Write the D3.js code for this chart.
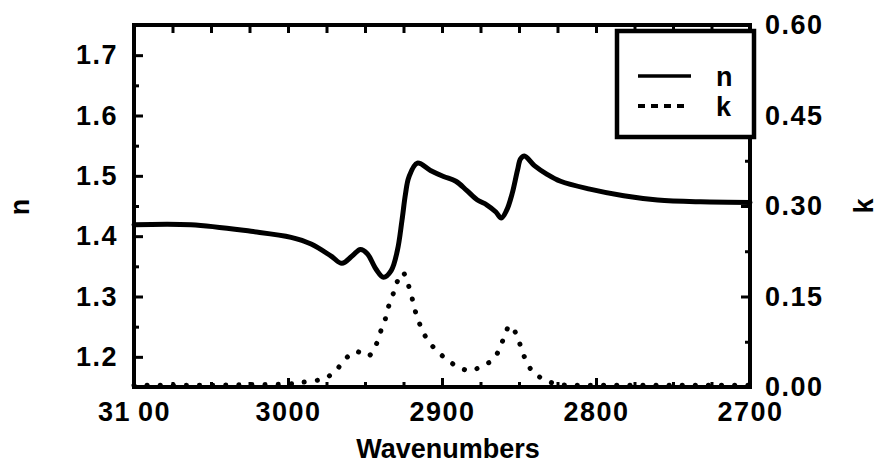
<!DOCTYPE html>
<html>
<head>
<meta charset="utf-8">
<script src="https://cdn.jsdelivr.net/npm/d3@7"></script>
<style>
  html, body { margin: 0; padding: 0; background: #fff; }
  svg text { font-family: "Liberation Sans", Arial, sans-serif; font-weight: bold; fill: #000; }
</style>
</head>
<body>
<svg id="chart" width="881" height="464"></svg>
<script>
// ---- data ----
const nWave = [3100, 3063, 3024, 2998, 2985, 2972, 2965, 2958, 2953, 2948.5, 2943, 2938, 2933, 2929, 2926, 2923.7, 2921.5, 2916, 2907.5, 2899, 2891, 2884, 2877, 2871, 2865, 2861.5, 2858, 2854.5, 2851, 2849, 2846.5, 2840, 2832, 2823, 2804, 2782, 2760, 2732, 2700];
const nVal  = [1.419, 1.419, 1.408, 1.398, 1.387, 1.367, 1.355, 1.368, 1.378, 1.371, 1.346, 1.332, 1.343, 1.376, 1.426, 1.470, 1.498, 1.521, 1.509, 1.499, 1.491, 1.476, 1.460, 1.452, 1.440, 1.430, 1.443, 1.470, 1.509, 1.528, 1.533, 1.517, 1.503, 1.491, 1.478, 1.467, 1.460, 1.457, 1.456];

const kWave = [3100, 3075, 3050, 3025, 3000, 2990, 2978, 2970, 2963, 2956, 2948, 2943, 2940, 2937, 2935, 2932, 2929.5, 2925.5, 2922, 2919.5, 2917.5, 2915, 2911.5, 2906, 2898.5, 2890, 2881.5, 2874, 2867, 2862.5, 2859.5, 2856, 2852, 2849, 2846, 2841, 2834, 2826, 2815, 2800, 2775, 2750, 2725, 2700];
const kVal  = [0.003, 0.003, 0.003, 0.004, 0.005, 0.008, 0.013, 0.024, 0.046, 0.059, 0.051, 0.069, 0.091, 0.111, 0.131, 0.152, 0.172, 0.190, 0.170, 0.148, 0.127, 0.108, 0.087, 0.067, 0.049, 0.034, 0.027, 0.035, 0.045, 0.064, 0.084, 0.102, 0.089, 0.068, 0.047, 0.025, 0.013, 0.005, 0.003, 0.003, 0.003, 0.003, 0.003, 0.003];

const xTicks = [3100, 3000, 2900, 2800, 2700];
const xMinor = d3.range(2725, 3100, 25);
const nTicks = [1.2, 1.3, 1.4, 1.5, 1.6, 1.7];
const nMinor = [1.25, 1.35, 1.45, 1.55, 1.65];
const kTicks = [0, 0.15, 0.30, 0.45, 0.60];
const kMinor = [0.075, 0.225, 0.375, 0.525];
const seriesNames = ["n", "k"];

// ---- layout ----
const X0 = 134, X1 = 750, Y0 = 25, Y1 = 387;
const svg = d3.select("#chart");

const x = d3.scaleLinear().domain([3100, 2700]).range([X0, X1]);
const yN = d3.scaleLinear().domain([1.15, 1.75]).range([Y1, Y0]);
const yK = d3.scaleLinear().domain([0, 0.6]).range([Y1, Y0]);

const fontSize = 27;
function styleAxis(g) {
  g.select(".domain").remove();
  g.selectAll(".tick line").attr("stroke", "#000").attr("stroke-width", 3);
  g.selectAll(".tick text").attr("font-size", fontSize).attr("letter-spacing", "1.5px");
}

const nData = nWave.map((w, i) => [w, nVal[i]]);
const kData = kWave.map((w, i) => [w, kVal[i]]);

svg.append("path")
  .datum(nData)
  .attr("fill", "none").attr("stroke", "#000").attr("stroke-width", 5)
  .attr("stroke-linejoin", "round").attr("stroke-linecap", "round")
  .attr("d", d3.line().x(d => x(d[0])).y(d => yN(d[1])).curve(d3.curveCatmullRom.alpha(0.5)));

svg.append("path")
  .datum(kData)
  .attr("fill", "none").attr("stroke", "#000").attr("stroke-width", 5)
  .attr("stroke-linecap", "round").attr("stroke-dasharray", "0.1,13")
  .attr("d", d3.line().x(d => x(d[0])).y(d => yK(d[1])).curve(d3.curveCatmullRom.alpha(0.5)));

// bottom axis
svg.append("g").attr("transform", `translate(0,${Y1})`)
  .call(d3.axisBottom(x).tickValues(xTicks).tickSize(-9).tickPadding(14)
    .tickFormat(d => d === 3100 ? "31\u200900" : String(d)))
  .call(styleAxis)
  .call(g => g.selectAll(".tick text").attr("dy", "0.71em").attr("y", 15));
svg.append("g").attr("transform", `translate(0,${Y1})`)
  .call(d3.axisBottom(x).tickValues(xMinor).tickSize(-5).tickFormat(""))
  .call(styleAxis);

// top axis
svg.append("g").attr("transform", `translate(0,${Y0})`)
  .call(d3.axisTop(x).tickValues(xTicks.concat(xMinor)).tickSize(-8).tickFormat(""))
  .call(styleAxis);

// left axis (n)
svg.append("g").attr("transform", `translate(${X0},0)`)
  .call(d3.axisLeft(yN).tickValues(nTicks).tickSize(-9).tickPadding(16).tickFormat(d3.format(".1f")))
  .call(styleAxis);
svg.append("g").attr("transform", `translate(${X0},0)`)
  .call(d3.axisLeft(yN).tickValues(nMinor).tickSize(-5).tickFormat(""))
  .call(styleAxis);

// right axis (k)
svg.append("g").attr("transform", `translate(${X1},0)`)
  .call(d3.axisRight(yK).tickValues(kTicks).tickSize(-9).tickPadding(15).tickFormat(d3.format(".2f")))
  .call(styleAxis);
svg.append("g").attr("transform", `translate(${X1},0)`)
  .call(d3.axisRight(yK).tickValues(kMinor).tickSize(-5).tickFormat(""))
  .call(styleAxis);

// frame
svg.append("rect").attr("x", X0).attr("y", Y0).attr("width", X1 - X0).attr("height", Y1 - Y0)
  .attr("fill", "none").attr("stroke", "#000").attr("stroke-width", 4);

// axis titles
svg.append("text").attr("x", (X0 + X1) / 2 + 6).attr("y", 458).attr("text-anchor", "middle")
  .attr("font-size", fontSize).text("Wavenumbers");
svg.append("text").attr("transform", "translate(29,207) rotate(-90)").attr("text-anchor", "middle")
  .attr("font-size", fontSize).text("n");
svg.append("text").attr("transform", "translate(873,206) rotate(-90)").attr("text-anchor", "middle")
  .attr("font-size", fontSize).text("k");

// legend
const lg = svg.append("g");
lg.append("rect").attr("x", 617).attr("y", 31).attr("width", 137).attr("height", 106)
  .attr("fill", "#fff").attr("stroke", "#000").attr("stroke-width", 4.5);
lg.append("line").attr("x1", 638).attr("x2", 691).attr("y1", 76).attr("y2", 76)
  .attr("stroke", "#000").attr("stroke-width", 3.5);
lg.append("line").attr("x1", 638).attr("x2", 684).attr("y1", 106).attr("y2", 106)
  .attr("stroke", "#000").attr("stroke-width", 4).attr("stroke-dasharray", "7,6");
lg.append("text").attr("x", 716).attr("y", 86).attr("font-size", fontSize).text(seriesNames[0]);
lg.append("text").attr("x", 716).attr("y", 116).attr("font-size", fontSize).text(seriesNames[1]);
</script>
</body>
</html>
